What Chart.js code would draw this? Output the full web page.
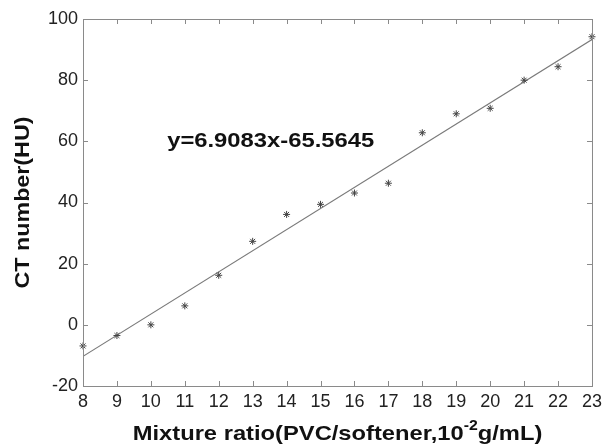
<!DOCTYPE html>
<html>
<head>
<meta charset="utf-8">
<script src="https://cdn.jsdelivr.net/npm/chart.js@4"></script>
<style>
  html, body { margin: 0; padding: 0; background: #fff; }
  #chart { display: block; }
</style>
</head>
<body>
<canvas id="chart" width="607" height="448"></canvas>
<script>
const ratios = [8, 9, 10, 11, 12, 13, 14, 15, 16, 17, 18, 19, 20, 21, 22, 23];
const ctNumbers = [-6.9, -3.5, 0, 6.2, 16.2, 27.3, 36.1, 39.4, 43.1, 46.3, 62.8, 69.0, 70.8, 80.0, 84.4, 94.2];
const fitX = [8, 23];
const fitY = [-10.3, 93.3];
const equationText = "y=6.9083x-65.5645";
const yTitle = "CT number(HU)";
const xTitleParts = ["Mixture ratio(PVC/softener,10", "-2", "g/mL)"];
const yTicks = [-20, 0, 20, 40, 60, 80, 100];

const FONT = "'Liberation Sans', Arial, sans-serif";

// text stretched along its own direction, the source image is a bit wide
function drawStretched(ctx, text, x, y, sx) {
    ctx.save();
    ctx.translate(x, y);
    ctx.scale(sx, 1);
    ctx.fillText(text, 0, 0);
    ctx.restore();
}

// inward MATLAB-style ticks, frame, titles and equation label
const framePlugin = {
    id: "frame",
    afterDraw(chart) {
        const ctx = chart.ctx;
        const a = chart.chartArea;
        const xs = chart.scales.x;
        const ys = chart.scales.y;
        ctx.save();
        ctx.strokeStyle = "#8a8a8a";
        ctx.lineWidth = 1;
        ctx.strokeRect(a.left + 0.5, a.top + 0.5, a.right - a.left, a.bottom - a.top);
        ctx.beginPath();
        xs.ticks.forEach(t => {
            const px = Math.round(xs.getPixelForValue(t.value)) + 0.5;
            ctx.moveTo(px, a.bottom); ctx.lineTo(px, a.bottom - 5);
            ctx.moveTo(px, a.top); ctx.lineTo(px, a.top + 5);
        });
        ys.ticks.forEach(t => {
            const py = Math.round(ys.getPixelForValue(t.value)) + 0.5;
            ctx.moveTo(a.left, py); ctx.lineTo(a.left + 5, py);
            ctx.moveTo(a.right, py); ctx.lineTo(a.right - 5, py);
        });
        ctx.stroke();

        ctx.fillStyle = "#111";
        ctx.textBaseline = "middle";
        ctx.textAlign = "left";

        // equation
        ctx.font = "bold 19.5px " + FONT;
        drawStretched(ctx, equationText, xs.getPixelForValue(10.48), ys.getPixelForValue(59.8), 1.22);

        // x title with superscript
        const sx = 1.13;
        const big = "bold 21px " + FONT;
        const small = "bold 14px " + FONT;
        ctx.font = big;
        const w0 = ctx.measureText(xTitleParts[0]).width;
        const w2 = ctx.measureText(xTitleParts[2]).width;
        ctx.font = small;
        const w1 = ctx.measureText(xTitleParts[1]).width;
        const total = (w0 + w1 + w2) * sx;
        let px = (a.left + a.right) / 2 - total / 2;
        const py = 434;
        ctx.font = big;
        drawStretched(ctx, xTitleParts[0], px, py, sx);
        px += w0 * sx;
        ctx.font = small;
        drawStretched(ctx, xTitleParts[1], px, py - 8, sx);
        px += w1 * sx;
        ctx.font = big;
        drawStretched(ctx, xTitleParts[2], px, py, sx);

        // y title
        ctx.font = "bold 21px " + FONT;
        const wy = ctx.measureText(yTitle).width;
        const sy = 172 / wy;
        ctx.save();
        ctx.translate(23, (a.top + a.bottom) / 2);
        ctx.rotate(-Math.PI / 2);
        ctx.scale(sy, 1);
        ctx.textAlign = "center";
        ctx.fillText(yTitle, 0, 0);
        ctx.restore();
        ctx.restore();
    }
};

new Chart(document.getElementById("chart"), {
    type: "scatter",
    data: {
        datasets: [
            {
                label: "measured",
                data: ratios.map((x, i) => ({ x: x, y: ctNumbers[i] })),
                pointStyle: "star",
                radius: 3.5,
                borderColor: "#444",
                backgroundColor: "#444",
                borderWidth: 1,
                clip: false
            },
            {
                label: "fit",
                type: "line",
                data: fitX.map((x, i) => ({ x: x, y: fitY[i] })),
                borderColor: "#7a7a7a",
                borderWidth: 1.2,
                pointRadius: 0,
                fill: false
            }
        ]
    },
    options: {
        responsive: false,
        animation: false,
        layout: { padding: { top: 19, right: 9, left: 0, bottom: 0 } },
        plugins: {
            legend: { display: false },
            tooltip: { enabled: false }
        },
        scales: {
            x: {
                type: "linear",
                min: 8,
                max: 23,
                grid: { display: false, drawTicks: false },
                border: { display: false },
                ticks: {
                    stepSize: 1,
                    padding: 5,
                    color: "#222",
                    font: { size: 18, family: FONT }
                },
                afterFit: s => { s.height = 62; }
            },
            y: {
                min: -20,
                max: 100,
                afterBuildTicks: s => { s.ticks = yTicks.map(v => ({ value: v })); },
                grid: { display: false, drawTicks: false },
                border: { display: false },
                ticks: {
                    padding: 5,
                    color: "#222",
                    font: { size: 18, family: FONT }
                },
                afterFit: s => { s.width = 83; }
            }
        }
    },
    plugins: [framePlugin]
});
</script>
</body>
</html>
